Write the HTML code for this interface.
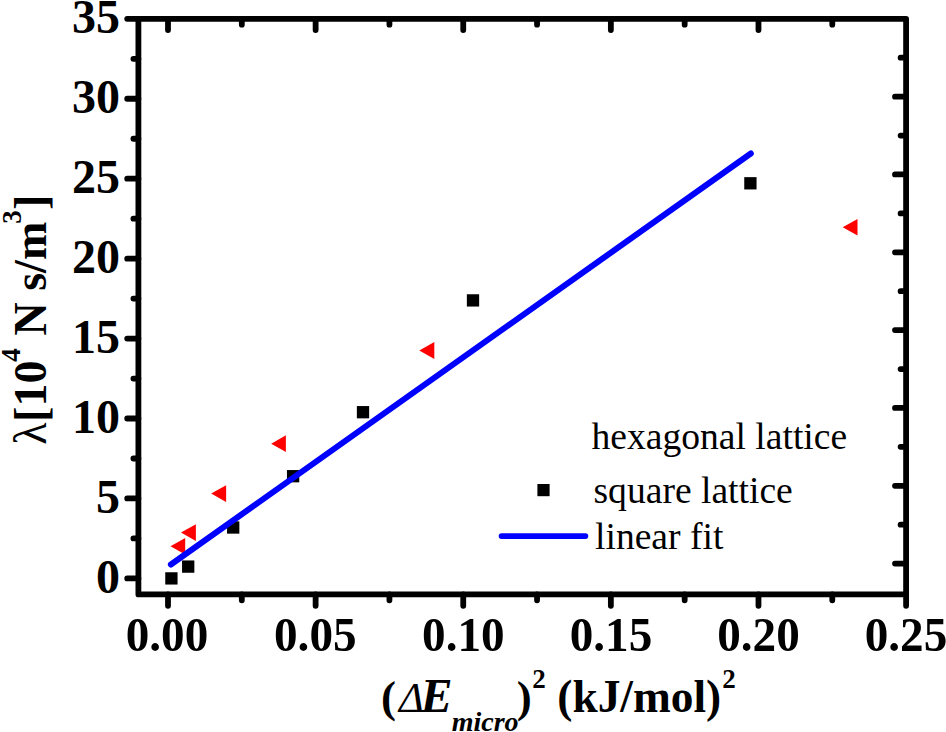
<!DOCTYPE html>
<html><head><meta charset="utf-8">
<style>
html,body{margin:0;padding:0;background:#fff;width:946px;height:732px;overflow:hidden}
svg{display:block}
text{font-family:"Liberation Serif",serif}
.b{font-weight:bold}
</style></head><body>
<svg width="946" height="732" viewBox="0 0 946 732">
<rect width="946" height="732" fill="#fff"/>
<!-- frame -->
<g stroke="#000" stroke-width="5.8" fill="none" stroke-linecap="round" stroke-linejoin="round">
<path d="M138.4 18.8H906.1V594.4H138.4Z"/>
<path d="M127.2 578.4H138.4M127.2 498.46H138.4M127.2 418.52H138.4M127.2 338.58H138.4M127.2 258.64H138.4M127.2 178.7H138.4M127.2 98.76H138.4M127.2 18.82H138.4M133.4 538.43H138.4M133.4 458.49H138.4M133.4 378.55H138.4M133.4 298.61H138.4M133.4 218.67H138.4M133.4 138.73H138.4M133.4 58.79H138.4M168 594.4V605.8M315.62 594.4V605.8M463.24 594.4V605.8M610.86 594.4V605.8M758.48 594.4V605.8M906.1 594.4V605.8M241.81 594.4V600.3M389.43 594.4V600.3M537.05 594.4V600.3M684.67 594.4V600.3M832.29 594.4V600.3M168 18.8V30M315.62 18.8V30M463.24 18.8V30M610.86 18.8V30M758.48 18.8V30M241.81 18.8V24.7M389.43 18.8V24.7M537.05 18.8V24.7M684.67 18.8V24.7M832.29 18.8V24.7M895 96.63H906.1M895 174.46H906.1M895 252.29H906.1M895 330.12H906.1M895 407.95H906.1M895 485.78H906.1M895 563.61H906.1M900.6 57.72H906.1M900.6 135.55H906.1M900.6 213.38H906.1M900.6 291.2H906.1M900.6 369.04H906.1M900.6 446.87H906.1M900.6 524.69H906.1"/>
</g>
<!-- y tick labels -->
<g class="b" font-size="48" text-anchor="end" fill="#000">
<text x="120" y="33.2">35</text>
<text x="120" y="113.2">30</text>
<text x="120" y="193.2">25</text>
<text x="120" y="273.2">20</text>
<text x="120" y="353.2">15</text>
<text x="120" y="433.2">10</text>
<text x="120" y="513.2">5</text>
<text x="120" y="593.2">0</text>
</g>
<!-- x tick labels -->
<g class="b" font-size="47.2" text-anchor="middle" fill="#000" transform="translate(0,651) scale(1,1.045) translate(0,-651)">
<text x="167" y="651">0.00</text>
<text x="315.3" y="651">0.05</text>
<text x="463.4" y="651">0.10</text>
<text x="611" y="651">0.15</text>
<text x="758.5" y="651">0.20</text>
<text x="906" y="651">0.25</text>
</g>
<!-- squares -->
<g fill="#000">
<rect x="165.25" y="572.25" width="12.3" height="12.3"/>
<rect x="182.05" y="560.45" width="12.3" height="12.3"/>
<rect x="227.05" y="521.35" width="12.3" height="12.3"/>
<rect x="286.95" y="470.05" width="12.3" height="12.3"/>
<rect x="356.85" y="406.05" width="12.3" height="12.3"/>
<rect x="466.85" y="294.25" width="12.3" height="12.3"/>
<rect x="744.25" y="177.15" width="12.3" height="12.3"/>
</g>
<!-- triangles -->
<g fill="#f00">
<path d="M170.5 546.3 L185.2 538 V554.6 Z"/>
<path d="M181 532.5 L195.9 524.2 V540.9 Z"/>
<path d="M211.2 493.5 L226.1 485.2 V501.9 Z"/>
<path d="M271.2 443.7 L285.9 435.3 V452.1 Z"/>
<path d="M419.3 350.4 L434.3 341.9 V358.9 Z"/>
<path d="M842.7 227.2 L857.5 218.9 V235.6 Z"/>
</g>
<!-- fit line -->
<path d="M170.9 564.5 L750.8 153.5" stroke="#0000ff" stroke-width="6" stroke-linecap="round" fill="none"/>
<!-- legend -->
<g font-size="37.6" fill="#000">
<text x="591.5" y="449">hexagonal lattice</text>
<text x="593.5" y="503">square lattice</text>
<text x="595" y="549">linear fit</text>
</g>
<rect x="537.4" y="484" width="12.2" height="12.2" fill="#000"/>
<path d="M501.6 536.1 H585.4" stroke="#0000ff" stroke-width="5.8" stroke-linecap="round"/>
<!-- y label -->
<g transform="translate(45.5,444) rotate(-90)" fill="#000">
<text x="-0.8" y="0" font-size="46">λ</text>
<text x="22.1" y="0" font-size="46" class="b">[10</text>
<text x="82.3" y="-26" font-size="27" class="b">4</text>
<text x="108.5" y="0" font-size="46" class="b">N s/m</text>
<text x="220.2" y="-25" font-size="27" class="b">3</text>
<text x="234" y="0" font-size="46" class="b">]</text>
</g>
<!-- x label -->
<g fill="#000" class="b">
<text x="381" y="712" font-size="45">(</text>
<text x="399" y="712" font-size="42" font-style="italic" font-weight="normal">Δ</text>
<text x="420.5" y="712" font-size="48" font-style="italic">E</text>
<text x="451.7" y="730.5" font-size="28" font-style="italic">micro</text>
<text x="516.8" y="712" font-size="45">)</text>
<text x="532.3" y="688.2" font-size="27">2</text>
<text x="557.3" y="712" font-size="45.4">(kJ/mol)</text>
<text x="722.2" y="688.2" font-size="27">2</text>
</g>
</svg>
</body></html>
